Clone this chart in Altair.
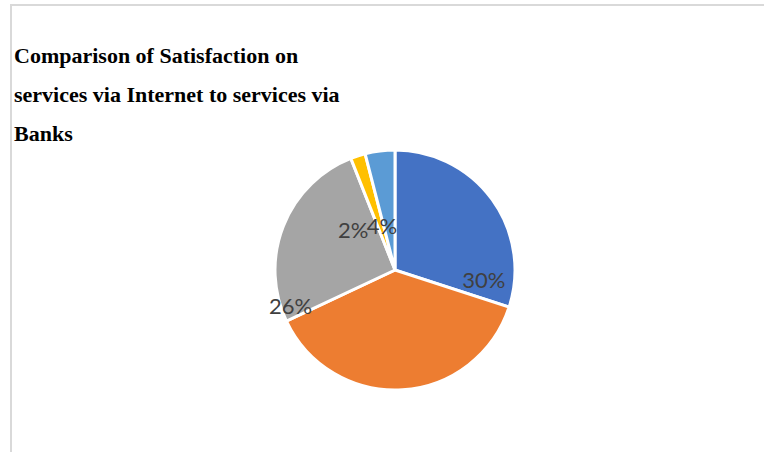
import altair as alt
import pandas as pd

# ---- data ----
categories = ["Category 1", "Category 2", "Category 3", "Category 4", "Category 5"]
shares = [30, 38, 26, 2, 4]
labels = ["30%", "", "26%", "2%", "4%"]
colors = ["#4472C4", "#ED7D31", "#A5A5A5", "#FFC000", "#5B9BD5"]
title_lines = [
    "Comparison of Satisfaction on",
    "services via Internet to services via",
    "Banks",
]

df = pd.DataFrame(
    {"category": categories, "share": shares, "label": labels, "order": list(range(len(categories)))}
)

color = alt.Color(
    "category:N", scale=alt.Scale(domain=categories, range=colors), legend=None
)

base = alt.Chart(df).encode(
    theta=alt.Theta("share:Q", stack=True),
    order=alt.Order("order:Q"),
)

pie = base.mark_arc(radius=120, stroke="white", strokeWidth=3).encode(color=color)

# label nudges (style): Excel-like placement relative to slice mid-angle
label_nudge = {
    "Category 1": (24, 58),
    "Category 3": (-30, 66),
    "Category 4": (-17, 37),
    "Category 5": (-3, 36),
}
label_layers = []
for cat, (ddx, ddy) in label_nudge.items():
    label_layers.append(
        base.mark_text(
            radius=80,
            dx=ddx,
            dy=ddy,
            font="Lato",
            fontSize=22,
            color="#404040",
            align="center",
            baseline="middle",
        ).encode(
            text="label:N",
            opacity=alt.condition(alt.datum.category == cat, alt.value(1), alt.value(0)),
        )
    )

one = pd.DataFrame({"a": [0]})
top_border = alt.Chart(one).mark_rule(color="#d9d9d9", strokeWidth=2).encode(
    x=alt.value(-20), x2=alt.value(734), y=alt.value(-145)
)
left_border = alt.Chart(one).mark_rule(color="#d9d9d9", strokeWidth=2).encode(
    x=alt.value(-19), y=alt.value(-146), y2=alt.value(302)
)

title = alt.Chart(one).mark_text(
    font="Liberation Serif",
    fontSize=22,
    fontWeight="bold",
    color="black",
    lineHeight=39,
    align="left",
    baseline="alphabetic",
).encode(
    x=alt.value(-16),
    y=alt.value(-87),
    text=alt.value(title_lines),
)

chart = alt.layer(top_border, left_border, title, pie, *label_layers).properties(
    width=730,
    height=240,
    padding={"left": 30, "top": 150, "right": 4, "bottom": 62},
    autosize=alt.AutoSizeParams(type="none"),
    background="white",
).configure_view(stroke=None)

chart.save("out.html", embed_options={"renderer": "svg", "actions": False})
